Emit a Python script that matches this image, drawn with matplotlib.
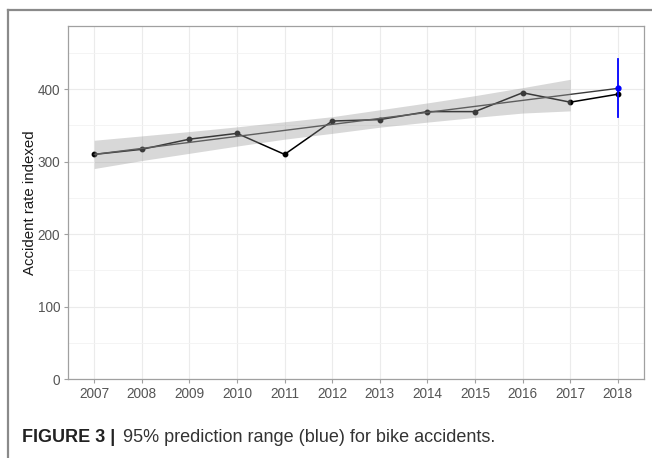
import matplotlib
matplotlib.use("Agg")
import matplotlib.pyplot as plt

# observed accident rate (indexed), 2018 = forecast point
years = [2007, 2008, 2009, 2010, 2011, 2012, 2013, 2014, 2015, 2016, 2017, 2018]
rate = [310, 317, 331, 339, 310, 356, 358, 369, 369, 395, 382, 393]

# linear trend and its confidence band (fit years 2007-2017)
trend_years = [2007, 2018]
trend_vals = [310, 401]
band_years = [2007, 2008, 2009, 2010, 2011, 2012, 2013, 2014, 2015, 2016, 2017]
band_low = [290.5, 301.5, 311.5, 321.5, 331.0, 339.0, 347.5, 354.5, 361.0, 367.0, 370.0]
band_high = [329.5, 335.5, 341.5, 348.0, 355.0, 362.0, 371.5, 381.0, 391.0, 402.0, 413.5]

# 95% prediction range for 2018
pred_year = 2018
pred_val = 401
pred_low = 362
pred_high = 442

plt.rcParams["font.family"] = ["Liberation Sans", "DejaVu Sans"]

fig = plt.figure(figsize=(6.52, 4.58), dpi=100)
ax = fig.add_axes([68 / 652, 1 - 379.3 / 458, 576 / 652, 353.3 / 458])

ax.plot(years, rate, color="black", lw=1.1, marker="o", ms=3.2, zorder=3)
ax.plot(trend_years, trend_vals, color="#3a3a3a", lw=1.0, zorder=3)
ax.fill_between(band_years, band_low, band_high, color="#999999", alpha=0.38,
                lw=0, zorder=4)
ax.plot([pred_year, pred_year], [pred_low, pred_high], color="blue", lw=1.3, zorder=5)
ax.plot(pred_year, pred_val, "o", color="blue", ms=3.5, zorder=6)

ax.set_xlim(2006.45, 2018.55)
ax.set_ylim(0, 487)
ax.set_xticks(years)
ax.set_yticks([0, 100, 200, 300, 400])
ax.set_yticks([50, 150, 250, 350, 450], minor=True)
ax.grid(which="major", color="#ebebeb", lw=0.8, zorder=0)
ax.grid(which="minor", axis="y", color="#f3f3f3", lw=0.6, zorder=0)
ax.set_axisbelow(True)
for s in ax.spines.values():
    s.set_color("#a0a0a0")
    s.set_linewidth(0.9)
ax.tick_params(which="major", length=3, width=0.8, color="#a0a0a0",
               labelcolor="#555555", labelsize=9.8, pad=2.5)
ax.tick_params(which="minor", length=0)
ax.set_ylabel("Accident rate indexed", fontsize=10.8, color="#1a1a1a")
ax.yaxis.set_label_coords(-0.053, 0.5)

# outer frame of the figure panel
fig.add_artist(plt.Line2D([7.5 / 652, 7.5 / 652], [0, 1 - 10 / 458],
                          color="#8a8a8a", lw=1.6))
fig.add_artist(plt.Line2D([7.5 / 652, 1], [1 - 10 / 458, 1 - 10 / 458],
                          color="#8a8a8a", lw=1.6))

fig.text(22 / 652, 1 - 438 / 458, "FIGURE 3 |", fontsize=13, fontweight="bold",
         color="#222222", va="center", ha="left")
fig.text(123 / 652, 1 - 438 / 458, "95% prediction range (blue) for bike accidents.",
         fontsize=13, color="#333333", va="center", ha="left")

fig.savefig("out.png", dpi=100)
